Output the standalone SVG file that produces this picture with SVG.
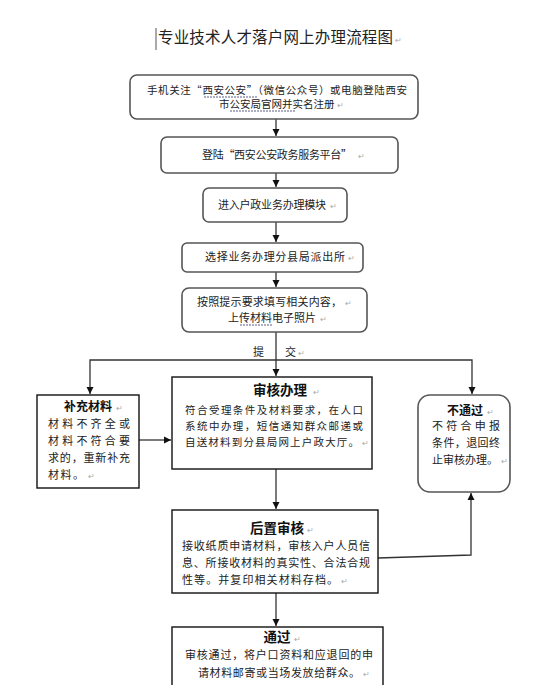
<svg xmlns="http://www.w3.org/2000/svg" width="542" height="685" viewBox="0 0 542 685">
<style>
text{font-family:"Noto Sans CJK SC","Liberation Sans",sans-serif;fill:#222;}
.t{font-size:11px;}
.h{font-size:13.5px;font-weight:bold;fill:#111;}
.rb{fill:#fff;stroke:#555;stroke-width:1.6;}
.sb{fill:#fff;stroke:#111;stroke-width:1.4;}
.c{fill:none;stroke:#333;stroke-width:1.3;}
.m{font-size:8px;fill:#aaa;}
.u{stroke:#336;stroke-width:0.8;stroke-dasharray:2 1;}
</style>
<defs>
<marker id="ah" markerWidth="8" markerHeight="8" refX="7" refY="4" orient="auto" markerUnits="userSpaceOnUse">
<path d="M0,0.5 L7,4 L0,7.5 Z" fill="#111"/>
</marker>
</defs>
<rect width="542" height="685" fill="#fff"/>
<g id="title">
<line x1="156" y1="28" x2="156" y2="50" stroke="#555" stroke-width="1"/>
<text x="158" y="43" style="font-size:15.5px" textLength="235" lengthAdjust="spacing">专业技术人才落户网上办理流程图</text>
<text x="395" y="43" class="m">↵</text>
</g>
<g id="connectors">
<line class="c" x1="276" y1="119" x2="276" y2="136" marker-end="url(#ah)"/>
<line class="c" x1="276" y1="173" x2="276" y2="187" marker-end="url(#ah)"/>
<line class="c" x1="276" y1="222" x2="276" y2="242" marker-end="url(#ah)"/>
<line class="c" x1="276" y1="272" x2="276" y2="287" marker-end="url(#ah)"/>
<line class="c" x1="276" y1="332" x2="276" y2="376" marker-end="url(#ah)"/>
<polyline class="c" points="276,360 90,360 90,394" marker-end="url(#ah)"/>
<polyline class="c" points="276,360 472,360 472,394" marker-end="url(#ah)"/>
<line class="c" x1="139" y1="440" x2="171" y2="440" marker-end="url(#ah)"/>
<line class="c" x1="276" y1="469" x2="276" y2="509" marker-end="url(#ah)"/>
<polyline class="c" points="378,558 471,555 471,493" marker-end="url(#ah)"/>
<line class="c" x1="276" y1="593" x2="276" y2="626" marker-end="url(#ah)"/>
<text x="253" y="356" class="t">提</text>
<text x="285" y="356" class="t">交</text>
<text x="298" y="356" class="m">↵</text>
</g>
<g id="n1">
<rect class="rb" x="130" y="75" width="288" height="44" rx="7"/>
<text x="147" y="94" style="font-size:10.5px" textLength="260" lengthAdjust="spacing">手机关注“西安公安”（微信公众号）或电脑登陆西安</text>
<line class="u" x1="204" y1="97" x2="257" y2="97"/>
<text x="219" y="108" style="font-size:10.5px">市公安局官网并实名注册</text>
<text x="337" y="108" class="m">↵</text>
<line class="u" x1="230" y1="111" x2="295" y2="111"/>
</g>
<g id="n2">
<rect class="rb" x="161" y="137" width="237" height="36" rx="6"/>
<text x="202" y="159" class="t" textLength="150" lengthAdjust="spacing">登陆“西安公安政务服务平台”</text>
<text x="358" y="159" class="m">↵</text>
</g>
<g id="n3">
<rect class="rb" x="203" y="188" width="144" height="34" rx="6"/>
<text x="218" y="209" class="t" textLength="108" lengthAdjust="spacing">进入户政业务办理模块</text>
<text x="330" y="209" class="m">↵</text>
</g>
<g id="n4">
<rect class="rb" x="182" y="243" width="181" height="29" rx="5"/>
<text x="205" y="261" class="t" textLength="140" lengthAdjust="spacing">选择业务办理分县局派出所</text>
<text x="348" y="261" class="m">↵</text>
</g>
<g id="n5">
<rect class="rb" x="182" y="288" width="185" height="44" rx="7"/>
<text x="197" y="306" class="t" textLength="145" lengthAdjust="spacing">按照提示要求填写相关内容，</text>
<text x="345" y="306" class="m">↵</text>
<text x="228" y="322" class="t" textLength="88" lengthAdjust="spacing">上传材料电子照片</text>
<text x="320" y="322" class="m">↵</text>
<line class="u" x1="240" y1="325" x2="272" y2="325"/>
</g>
<g id="n6">
<rect class="sb" x="172" y="377" width="200" height="92"/>
<text x="280" y="395" class="h" text-anchor="middle">审核办理</text>
<text x="313" y="395" class="m">↵</text>
<text x="185" y="414" style="font-size:10.5px" textLength="178" lengthAdjust="spacing">符合受理条件及材料要求，在人口</text>
<text x="185" y="430" style="font-size:10.5px" textLength="178" lengthAdjust="spacing">系统中办理，短信通知群众邮递或</text>
<text x="185" y="446" style="font-size:10.5px" textLength="174" lengthAdjust="spacing">自送材料到分县局网上户政大厅。</text>
<text x="362" y="446" class="m">↵</text>
</g>
<g id="n7">
<rect class="sb" x="37" y="395" width="102" height="93"/>
<text x="88" y="411" class="h" style="font-size:12px" text-anchor="middle">补充材料</text>
<text x="116" y="411" class="m">↵</text>
<text x="48" y="428" class="t" textLength="82" lengthAdjust="spacing">材料不齐全或</text>
<text x="48" y="445" class="t" textLength="82" lengthAdjust="spacing">材料不符合要</text>
<text x="48" y="462" class="t" textLength="82" lengthAdjust="spacing">求的，重新补充</text>
<text x="48" y="479" class="t" textLength="36" lengthAdjust="spacing">材料。</text>
<text x="88" y="479" class="m">↵</text>
</g>
<g id="n8">
<rect class="rb" x="418" y="395" width="92" height="97" rx="12"/>
<text x="465" y="415" class="h" style="font-size:12px" text-anchor="middle">不通过</text>
<text x="487" y="415" class="m">↵</text>
<text x="432" y="430" class="t" textLength="68" lengthAdjust="spacing">不符合申报</text>
<text x="432" y="447" class="t" textLength="68" lengthAdjust="spacing">条件，退回终</text>
<text x="432" y="464" class="t" textLength="66" lengthAdjust="spacing">止审核办理。</text>
<text x="501" y="464" class="m">↵</text>
</g>
<g id="n9">
<rect class="sb" x="172" y="510" width="206" height="83"/>
<text x="277" y="533" class="h" text-anchor="middle">后置审核</text>
<text x="307" y="533" class="m">↵</text>
<text x="182" y="550" class="t" textLength="188" lengthAdjust="spacing">接收纸质申请材料，审核入户人员信</text>
<text x="182" y="567" class="t" textLength="188" lengthAdjust="spacing">息、所接收材料的真实性、合法合规</text>
<text x="182" y="584" class="t" textLength="156" lengthAdjust="spacing">性等。并复印相关材料存档。</text>
<text x="341" y="584" class="m">↵</text>
</g>
<g id="n10">
<rect class="sb" x="172" y="627" width="211" height="70"/>
<text x="277" y="642" class="h" text-anchor="middle">通过</text>
<text x="294" y="642" class="m">↵</text>
<text x="185" y="659" class="t" textLength="188" lengthAdjust="spacing">审核通过，将户口资料和应退回的申</text>
<text x="198" y="677" class="t" textLength="162" lengthAdjust="spacing">请材料邮寄或当场发放给群众。</text>
<text x="363" y="677" class="m">↵</text>
</g>
</svg>
